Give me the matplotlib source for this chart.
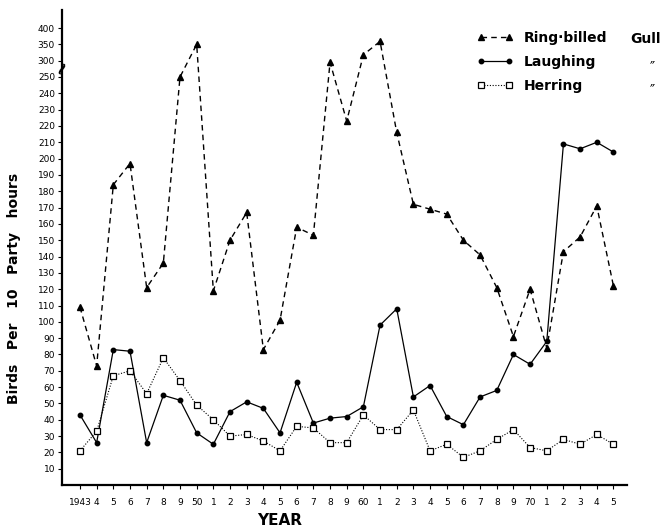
import matplotlib
matplotlib.use('Agg')
import matplotlib.pyplot as plt
import matplotlib.transforms as mtransforms
import numpy as np

years = list(range(1943, 1976))
year_labels = ['1943', '4', '5', '6', '7', '8', '9', '50', '1', '2', '3', '4', '5', '6', '7',
               '8', '9', '60', '1', '2', '3', '4', '5', '6', '7', '8', '9', '70', '1', '2',
               '3', '4', '5']

ring_billed = [109, 73, 184, 197, 121, 136, 250, 350, 119, 150, 167, 83, 101, 158, 153, 295, 223,
               318, 359, 216, 172, 169, 166, 150, 141, 121, 91, 120, 84, 143, 152, 171, 122]
laughing = [43, 26, 83, 82, 26, 55, 52, 32, 25, 45, 51, 47, 32, 63, 38, 41, 42,
            48, 98, 108, 54, 61, 42, 37, 54, 58, 80, 74, 88, 209, 206, 210, 204]
herring = [21, 33, 67, 70, 56, 78, 64, 49, 40, 30, 31, 27, 21, 36, 35, 26, 26,
           43, 34, 34, 46, 21, 25, 17, 21, 28, 34, 23, 21, 28, 25, 31, 25]

y_ticks = list(range(10, 260, 10)) + [300, 350, 400]
y_tick_labels = [str(v) for v in y_ticks]


# broken axis: 10 per step up to 250, then 50 per step
def fwd(v):
    v = np.asarray(v, dtype=float)
    return np.where(v <= 250, v / 10, 25 + (v - 250) / 50)


def inv(s):
    s = np.asarray(s, dtype=float)
    return np.where(s <= 25, s * 10, 250 + (s - 25) * 50)


fig = plt.figure(figsize=(6.70, 5.29), dpi=100)
ax = fig.add_axes([0.0925, 0.083, 0.8435, 0.898])
ax.set_yscale('function', functions=(fwd, inv))

ax.plot(years, ring_billed, linestyle=(0, (4, 3)), color='black', linewidth=1.0,
        marker='^', markersize=4.5, markerfacecolor='black', label='Ring·billed')
ax.plot(years, laughing, linestyle='-', color='black', linewidth=0.9,
        marker='o', markersize=3.2, markerfacecolor='black', label='Laughing')
ax.plot(years, herring, linestyle=(0, (1, 1.5)), color='black', linewidth=0.8,
        marker='s', markersize=3.8, markerfacecolor='white', markeredgewidth=0.9, label='Herring')

ax.set_xlim(1941.92, 1975.82)
ax.set_ylim(0, 455)
ax.set_xticks(years)
ax.set_xticklabels(year_labels, fontsize=6.5)
ax.set_yticks(y_ticks)
ax.set_yticklabels(y_tick_labels, fontsize=6.5)
ax.minorticks_off()
ax.tick_params(axis='both', direction='out', length=3, width=0.8, pad=2)
ax.tick_params(axis='x', pad=6)

for side in ['top', 'right']:
    ax.spines[side].set_visible(False)
ax.spines['left'].set_linewidth(1.6)
ax.spines['bottom'].set_linewidth(1.6)

# axis break mark
trans = mtransforms.blended_transform_factory(ax.transAxes, ax.transData)
ax.text(0, 278, '~', transform=trans, fontsize=13, fontweight='bold',
        ha='center', va='center', rotation=60)

ax.set_xlabel('YEAR', fontsize=11, fontweight='bold')
ax.xaxis.set_label_coords(0.385, -0.058)
fig.text(0.021, 1 - 288 / 529, 'Birds   Per   10   Party   hours', rotation=90,
         fontsize=10, fontweight='bold', ha='center', va='center')

leg = ax.legend(loc='upper left', bbox_to_anchor=(0.712, 0.982), frameon=False,
                numpoints=2, handlelength=2.6, labelspacing=0.72,
                prop={'weight': 'bold', 'size': 10}, handletextpad=0.8)
fig.text(630 / 670, 1 - 39 / 529, 'Gull', fontsize=10, fontweight='bold', va='center')
fig.text(650 / 670, 1 - 59 / 529, '\u2033', fontsize=10, va='top')
fig.text(650 / 670, 1 - 82 / 529, '\u2033', fontsize=10, va='top')

fig.savefig('out.png', dpi=100)
